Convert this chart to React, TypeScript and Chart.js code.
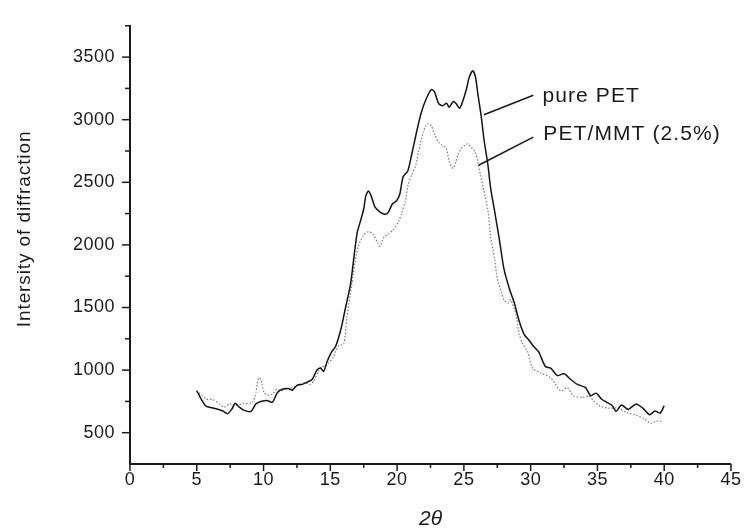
import React, { useEffect, useRef } from 'react';
import { Chart, registerables } from 'chart.js';

Chart.register(...registerables);

// ---- data ----
const pureX = [5.0, 5.33, 5.7, 6.45, 6.95, 7.3, 7.64, 7.86, 8.18, 8.56, 9.05, 9.43, 9.8, 10.3, 10.66, 11.04, 11.4, 11.9, 12.15, 12.5, 12.9, 13.27, 13.64, 14.0, 14.26, 14.5, 14.76, 15.1, 15.4, 15.8, 16.1, 16.5, 16.75, 17.0, 17.24, 17.5, 17.66, 17.86, 18.1, 18.35, 18.73, 19.1, 19.35, 19.64, 19.96, 20.2, 20.45, 20.8, 21.08, 21.45, 21.8, 22.2, 22.57, 22.8, 23.1, 23.4, 23.7, 23.9, 24.2, 24.4, 24.68, 24.9, 25.17, 25.4, 25.67, 25.87, 26.04, 26.3, 26.5, 26.8, 27.0, 27.3, 27.66, 28.0, 28.4, 28.77, 29.14, 29.5, 29.9, 30.2, 30.6, 31.1, 31.5, 32.0, 32.5, 33.0, 33.5, 34.1, 34.5, 34.9, 35.3, 35.7, 36.1, 36.4, 36.8, 37.3, 37.9, 38.4, 38.9, 39.3, 39.7, 40.0];
const pureY = [835, 769, 712, 691, 673, 652, 691, 735, 704, 678, 670, 730, 749, 756, 743, 821, 847, 852, 839, 878, 886, 904, 925, 1002, 1016, 990, 1068, 1145, 1190, 1330, 1480, 1678, 1886, 2093, 2184, 2287, 2392, 2431, 2379, 2301, 2262, 2244, 2262, 2327, 2353, 2404, 2545, 2591, 2716, 2898, 3054, 3171, 3241, 3222, 3131, 3111, 3131, 3100, 3144, 3131, 3092, 3144, 3235, 3339, 3391, 3339, 3210, 3027, 2846, 2638, 2456, 2270, 2041, 1808, 1652, 1540, 1392, 1288, 1236, 1192, 1145, 1029, 1016, 956, 971, 925, 886, 860, 795, 816, 769, 743, 717, 671, 722, 686, 730, 696, 644, 673, 657, 717];

const mmtX = [5.0, 5.7, 6.2, 6.7, 7.07, 7.44, 7.94, 8.43, 9.17, 9.43, 9.62, 9.8, 10.04, 10.3, 10.66, 11.0, 11.29, 11.6, 12.15, 12.65, 13.14, 13.5, 13.76, 14.1, 14.4, 14.6, 14.9, 15.2, 15.6, 16.0, 16.24, 16.6, 16.85, 17.1, 17.5, 17.86, 18.2, 18.55, 18.73, 18.97, 19.35, 19.7, 20.1, 20.33, 20.6, 20.83, 21.1, 21.4, 21.6, 21.95, 22.27, 22.57, 22.8, 23.1, 23.4, 23.7, 23.9, 24.2, 24.4, 24.55, 24.8, 25.05, 25.3, 25.55, 25.84, 26.04, 26.24, 26.5, 26.8, 27.0, 27.3, 27.5, 27.8, 28.0, 28.3, 28.5, 28.9, 29.14, 29.4, 29.76, 30.13, 30.75, 31.5, 32.24, 32.74, 33.2, 33.96, 34.35, 34.7, 35.2, 35.8, 36.6, 37.2, 37.9, 38.5, 39.0, 39.4, 39.8];
const mmtY = [835, 769, 764, 730, 704, 730, 717, 730, 743, 821, 938, 925, 821, 800, 808, 847, 834, 847, 860, 886, 899, 886, 912, 990, 1029, 1029, 1060, 1100, 1192, 1210, 1418, 1678, 1859, 1989, 2080, 2106, 2088, 2015, 1989, 2054, 2088, 2119, 2184, 2249, 2340, 2482, 2560, 2638, 2742, 2898, 2970, 2950, 2885, 2820, 2794, 2768, 2664, 2612, 2664, 2721, 2770, 2794, 2807, 2781, 2742, 2664, 2560, 2431, 2275, 2067, 1886, 1730, 1626, 1561, 1535, 1561, 1444, 1288, 1210, 1150, 1016, 977, 938, 834, 860, 795, 782, 795, 756, 712, 696, 696, 660, 639, 613, 574, 593, 590];

const seriesNames = ['pure PET', 'PET/MMT (2.5%)'];

const xTickValues = [0, 5, 10, 15, 20, 25, 30, 35, 40, 45];
const yTickValues = [500, 1000, 1500, 2000, 2500, 3000, 3500];
const xRange = [0, 45];
const yRange = [250, 3750];
const xMinorStep = 2.5;
const yMinorStep = 250;

const xTitle = '2θ';
const yTitle = 'Intersity of diffraction';

// callout leader lines (data coords): [fromX, fromY, toX, toY], label anchor [x, y]
const calloutLines = [
  [26.5, 3040, 30.2, 3196],
  [26.1, 2636, 30.2, 2861],
];
const calloutLabelAt = [
  [30.88, 3142],
  [30.95, 2838],
];

const FONT = "'Liberation Sans', Arial, Helvetica, sans-serif";
const INK = '#1a1a1a';

const decorPlugin = {
  id: 'decor',
  beforeDraw(chart: any) {
    const ctx = chart.ctx;
    ctx.fillStyle = '#ffffff';
    ctx.fillRect(0, 0, chart.width, chart.height);
    (ctx as any).letterSpacing = '0.5px';
  },
  afterDraw(chart: any) {
    const { ctx, chartArea } = chart;
    const x = chart.scales.x;
    const y = chart.scales.y;
    ctx.save();
    ctx.strokeStyle = INK;
    ctx.lineWidth = 1.5;
    // y ticks
    for (let v = yRange[0] + yMinorStep; v <= yRange[1] + 1e-6; v += yMinorStep) {
      const py = y.getPixelForValue(v);
      const major = yTickValues.includes(v);
      const len = major ? 8 : 5;
      ctx.beginPath();
      ctx.moveTo(chartArea.left - len, py);
      ctx.lineTo(chartArea.left, py);
      ctx.stroke();
    }
    // x ticks
    for (let v = xRange[0]; v <= xRange[1] + 1e-6; v += xMinorStep) {
      const px = x.getPixelForValue(v);
      const major = xTickValues.includes(v);
      const len = major ? 7 : 4;
      ctx.beginPath();
      ctx.moveTo(px, chartArea.bottom);
      ctx.lineTo(px, chartArea.bottom + len);
      ctx.stroke();
    }
    // callouts
    ctx.lineWidth = 1.6;
    calloutLines.forEach((l) => {
      ctx.beginPath();
      ctx.moveTo(x.getPixelForValue(l[0]), y.getPixelForValue(l[1]));
      ctx.lineTo(x.getPixelForValue(l[2]), y.getPixelForValue(l[3]));
      ctx.stroke();
    });
    ctx.fillStyle = INK;
    (ctx as any).letterSpacing = '1.1px';
    ctx.font = `21px ${FONT}`;
    ctx.textAlign = 'left';
    ctx.textBaseline = 'alphabetic';
    calloutLabelAt.forEach((p, i) => {
      ctx.fillText(seriesNames[i], x.getPixelForValue(p[0]), y.getPixelForValue(p[1]));
    });
    // y title
    (ctx as any).letterSpacing = '0.9px';
    ctx.font = `19px ${FONT}`;
    ctx.save();
    ctx.translate(25, (chartArea.top + chartArea.bottom) / 2 - 16);
    ctx.rotate(-Math.PI / 2);
    ctx.textAlign = 'center';
    ctx.textBaseline = 'middle';
    ctx.fillText(yTitle, 0, 0);
    ctx.restore();
    // x title
    (ctx as any).letterSpacing = '0px';
    ctx.font = `italic 21px ${FONT}`;
    ctx.textAlign = 'center';
    ctx.textBaseline = 'middle';
    ctx.fillText(xTitle, (chartArea.left + chartArea.right) / 2, chartArea.bottom + 55);
    ctx.restore();
  },
};

export default function App() {
  const ref = useRef<HTMLCanvasElement | null>(null);
  useEffect(() => {
    if (!ref.current) return;
    const chart = new Chart(ref.current, {
      type: 'scatter',
      data: {
        datasets: [
          {
            label: seriesNames[0],
            data: pureX.map((v, i) => ({ x: v, y: pureY[i] })),
            showLine: true,
            borderColor: '#141414',
            borderWidth: 1.5,
            pointRadius: 0,
            tension: 0.25,
            fill: false,
          },
          {
            label: seriesNames[1],
            data: mmtX.map((v, i) => ({ x: v, y: mmtY[i] })),
            showLine: true,
            borderColor: '#7a7a7a',
            borderWidth: 1.2,
            borderDash: [1.5, 1.8],
            pointRadius: 0,
            tension: 0.25,
            fill: false,
          },
        ],
      },
      options: {
        responsive: false,
        animation: false,
        devicePixelRatio: 1,
        layout: { padding: { top: 13, right: 11, left: 0, bottom: 0 } },
        plugins: { legend: { display: false }, tooltip: { enabled: false } },
        scales: {
          x: {
            type: 'linear',
            min: xRange[0],
            max: xRange[1],
            afterBuildTicks: (s: any) => {
              s.ticks = xTickValues.map((v) => ({ value: v }));
            },
            afterFit: (s: any) => {
              s.height = 64;
            },
            grid: { display: false, drawTicks: false },
            border: { display: true, color: INK, width: 2 },
            ticks: {
              autoSkip: false,
              maxRotation: 0,
              padding: 5,
              color: INK,
              font: { family: FONT, size: 18 },
              callback: (v: any) => String(v),
            },
          },
          y: {
            type: 'linear',
            min: yRange[0],
            max: yRange[1],
            afterBuildTicks: (s: any) => {
              s.ticks = yTickValues.map((v) => ({ value: v }));
            },
            afterFit: (s: any) => {
              s.width = 130;
            },
            grid: { display: false, drawTicks: false },
            border: { display: true, color: INK, width: 2 },
            ticks: {
              autoSkip: false,
              padding: 15,
              color: INK,
              font: { family: FONT, size: 18 },
              callback: (v: any) => String(v),
            },
          },
        },
      },
      plugins: [decorPlugin],
    } as any);
    return () => chart.destroy();
  }, []);
  return (
    <div style={{ position: 'fixed', left: 0, top: 0, width: 746, height: 528, background: '#fff' }}>
      <canvas ref={ref} width={746} height={528} style={{ width: 746, height: 528, display: 'block' }} />
    </div>
  );
}
